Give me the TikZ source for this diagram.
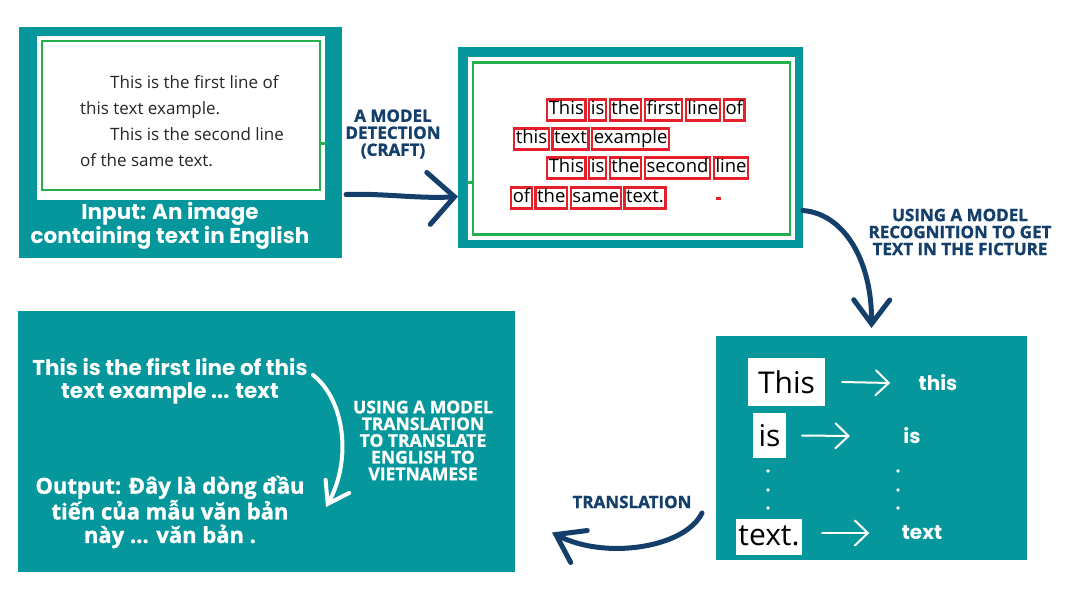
\documentclass[tikz,border=0pt]{standalone}
\usepackage{fontspec}
\setmainfont{Open Sans}
\newfontfamily\popfont{Poppins}
\newfontfamily\heavyfont{Open Sans}[BoldFeatures={FakeBold=1.2}]
\usetikzlibrary{positioning,arrows.meta}

\definecolor{panelteal}{HTML}{05979C}
\definecolor{navy}{HTML}{133F6A}
\definecolor{framegreen}{HTML}{24B04C}
\definecolor{wordred}{HTML}{E6202A}

\tikzset{
  panel/.style={fill=panelteal, inner sep=0pt, outer sep=0pt, anchor=north west},
  picbox/.style={fill=white, inner sep=0pt, outer sep=0pt},
  greenframe/.style={draw=framegreen, line width=2.4pt, inner sep=0pt},
  wordbox/.style={draw=wordred, line width=2.3pt, inner sep=1.6pt, text height=13.5pt,
    text depth=4.3pt, font=\fontsize{18.5}{18.5}\selectfont},
  navylab/.style={text=navy, align=center, font=\heavyfont\bfseries\fontsize{17}{17}\selectfont},
  whitelab/.style={text=white, align=center, font=\popfont\bfseries\fontsize{21.5}{23}\selectfont},
  steplab/.style={text=white, align=center, font=\heavyfont\bfseries\fontsize{17.5}{16.7}\selectfont},
  navyarrow/.style={draw=navy, line width=5pt, line cap=round},
  whitearrow/.style={draw=white, line width=2pt, line cap=round,
    -{Straight Barb[length=13pt,width=25pt,line cap=round]}},
  bigword/.style={fill=white, inner sep=0pt, font=\fontsize{30}{30}\selectfont}
}

\begin{document}
\begin{tikzpicture}[x=1pt, y=-1pt]
\useasboundingbox (0,0) rectangle (1076,595);

% input panel
\node[panel, minimum width=323pt, minimum height=231pt] (inbox) at (19,27) {};
\node[picbox, minimum width=288pt, minimum height=164pt] (inpic) at (181,118) {};
\node[greenframe, minimum width=278pt, minimum height=149pt] (inframe) at (181,115.5) {};
\draw[framegreen, line width=3pt] (inframe.east) ++(0,27.5) -- ++(5,0);
\node[anchor=north west, align=left, text=black!85, inner sep=0pt,
  font=\fontsize{17}{26}\selectfont] (intext) at (80,75)
  {\hspace*{30pt}This is the first line of\\this text example.\\
   \hspace*{30pt}This is the second line\\of the same text.};
\node[whitelab] (inlab) at (170,225.5) {Input: An image\\containing text in English};

% detection panel
\node[panel, minimum width=345pt, minimum height=201pt] (detbox) at (458,47) {};
\node[picbox, minimum width=327pt, minimum height=183pt] (detpic) at (631.5,148.5) {};
\node[greenframe, minimum width=317pt, minimum height=172pt] (detframe) at (631.5,148.5) {};
\draw[framegreen, line width=3pt] (detframe.west) ++(0,33.5) -- ++(-5,0);

\foreach \w [count=\i] in {This,is,the,first,line,of}{
  \ifnum\i=1
    \node[wordbox, anchor=west] (a\i) at (546,110) {\w};
  \else
    \pgfmathtruncatemacro{\k}{\i-1}
    \node[wordbox, right=1.5pt of a\k] (a\i) {\w};
  \fi
}
\foreach \w [count=\i] in {this,text,example}{
  \ifnum\i=1
    \node[wordbox, anchor=west] (b\i) at (513,139) {\w};
  \else
    \pgfmathtruncatemacro{\k}{\i-1}
    \node[wordbox, right=1.5pt of b\k] (b\i) {\w};
  \fi
}
\foreach \w [count=\i] in {This,is,the,second,line}{
  \ifnum\i=1
    \node[wordbox, anchor=west] (c\i) at (546,168) {\w};
  \else
    \pgfmathtruncatemacro{\k}{\i-1}
    \node[wordbox, right=1.5pt of c\k] (c\i) {\w};
  \fi
}
\foreach \w [count=\i] in {of,the,same,text.}{
  \ifnum\i=1
    \node[wordbox, anchor=west] (d\i) at (510,198) {\w};
  \else
    \pgfmathtruncatemacro{\k}{\i-1}
    \node[wordbox, right=1.5pt of d\k] (d\i) {\w};
  \fi
}
\fill[wordred] (716,196.5) rectangle (721,199.5);

% detection step
\node[navylab] (detlab) at (393,134) {A MODEL\\DETECTION\\(CRAFT)};
\draw[navyarrow, -{Straight Barb[length=26pt,width=52pt,line cap=round]}]
  ([xshift=4pt,yshift=-52pt]inbox.east) .. controls (380,193) and (420,199) .. ([yshift=-49pt]detbox.west);

% recognition panel
\node[panel, minimum width=311pt, minimum height=224pt] (recbox) at (716,336) {};
\node[bigword, minimum width=77pt, minimum height=48pt] (wthis) at (786.5,382) {This};
\node[bigword, minimum width=33pt, minimum height=45pt] (wis) at (769.5,435.5) {is};
\node[bigword, minimum width=66pt, minimum height=36pt, text depth=2pt] (wtext) at (769,537) {text.};
\node[whitelab, font=\popfont\bfseries\fontsize{20}{20}\selectfont] (rthis) at (938,383) {this};
\node[whitelab, font=\popfont\bfseries\fontsize{20}{20}\selectfont] (ris) at (912,436) {is};
\node[whitelab, font=\popfont\bfseries\fontsize{20}{20}\selectfont] (rtext) at (922,533) {text};
\draw[whitearrow] ([xshift=17pt]wthis.east) -- ([xshift=-25pt]rthis.west);
\draw[whitearrow] ([xshift=16pt]wis.east) -- ([xshift=-50pt]ris.west);
\draw[whitearrow] ([xshift=20pt,yshift=4pt]wtext.east) -- ([xshift=-29pt]rtext.west);
\foreach \y in {471,490,508}{
  \fill[white] (768,\y) circle (1.8pt);
  \fill[white] (898,\y) circle (1.8pt);
}

% recognition step
\node[navylab] (reclab) at (960,232) {USING A MODEL\\RECOGNITION TO GET\\TEXT IN THE FICTURE};
\draw[navyarrow, -{Straight Barb[length=24pt,width=36pt,line cap=round]}]
  ([yshift=-63pt]detbox.east) .. controls (845,214) and (872,262) .. ([yshift=8pt]recbox.north);

% output panel
\node[panel, minimum width=497pt, minimum height=261pt] (outbox) at (18,311) {};
\node[whitelab] (engtxt) at (170,381.5) {This is the first line of this\\text example ... text};
\node[whitelab, font=\heavyfont\bfseries\fontsize{22}{23.5}\selectfont] (viettxt) at (170,512)
  {Output: Đây là dòng đầu\\tiến của mẫu văn bản\\này ... văn bản .};
\node[steplab] (translab) at (423,440.5)
  {USING A MODEL\\TRANSLATION\\TO TRANSLATE\\ENGLISH TO\\VIETNAMESE};
\coordinate (tstart) at (313,375);
\coordinate (tend) at (326,507);
\draw[draw=white, line width=4pt, line cap=round,
  -{Straight Barb[length=20pt,width=27pt,line cap=round]}]
  (tstart) .. controls (345,400) and (352,460) .. (tend);

% translation step
\node[navylab] (outlab) at (632,502) {TRANSLATION};
\draw[navyarrow, -{Straight Barb[length=26pt,width=36pt,line cap=round]}]
  ([xshift=-14pt,yshift=-65pt]recbox.west) .. controls (685,548) and (605,560) .. ([xshift=37pt,yshift=-91pt]outbox.east);
\end{tikzpicture}
\end{document}
